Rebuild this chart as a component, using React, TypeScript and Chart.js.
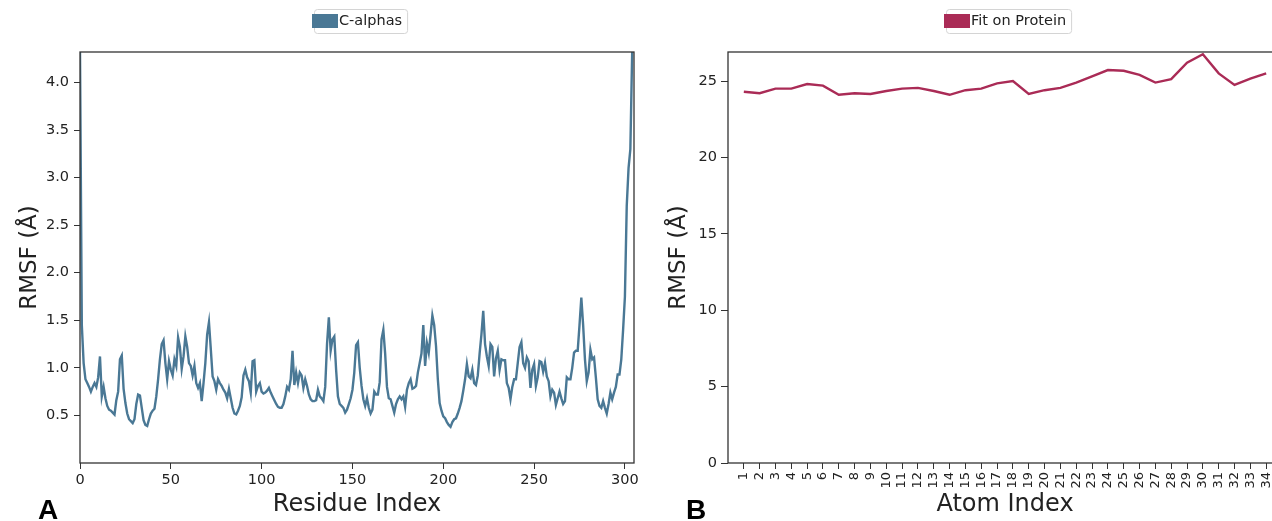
import React, { useEffect, useRef } from "react";
import { Chart, registerables } from "chart.js";

Chart.register(...registerables);

// ---------- Panel A: C-alpha RMSF per residue ----------
const residueRmsf = [
  4.32, 1.45, 1.05, 0.88, 0.84, 0.80, 0.75, 0.80, 0.84, 0.80,
  0.90, 1.12, 0.70, 0.80, 0.68, 0.60, 0.56, 0.55, 0.53, 0.51,
  0.66, 0.75, 1.09, 1.13, 0.78, 0.63, 0.52, 0.46, 0.44, 0.42,
  0.46, 0.62, 0.72, 0.71, 0.58, 0.45, 0.40, 0.39, 0.46, 0.52,
  0.55, 0.57, 0.70, 0.88, 1.09, 1.25, 1.29, 1.05, 0.88, 1.07,
  0.98, 0.92, 1.09, 1.02, 1.32, 1.22, 0.99, 1.12, 1.33, 1.22,
  1.05, 1.02, 0.92, 1.02, 0.84, 0.79, 0.84, 0.65, 0.84, 1.05,
  1.35, 1.48, 1.20, 0.91, 0.86, 0.77, 0.88, 0.84, 0.81, 0.77,
  0.74, 0.68, 0.78, 0.68, 0.58, 0.52, 0.51, 0.55, 0.60, 0.69,
  0.92, 0.98, 0.90, 0.86, 0.74, 1.07, 1.08, 0.75, 0.81, 0.84,
  0.75, 0.73, 0.74, 0.76, 0.79, 0.74, 0.70, 0.66, 0.62, 0.59,
  0.58, 0.58, 0.62, 0.70, 0.80, 0.77, 0.88, 1.18, 0.82, 0.95,
  0.84, 0.95, 0.92, 0.79, 0.88, 0.81, 0.72, 0.67, 0.65, 0.65,
  0.66, 0.77, 0.70, 0.68, 0.65, 0.80, 1.25, 1.53, 1.18, 1.30,
  1.33, 0.98, 0.70, 0.62, 0.60, 0.58, 0.53, 0.56, 0.62, 0.68,
  0.77, 0.95, 1.24, 1.27, 1.00, 0.81, 0.67, 0.60, 0.68, 0.58,
  0.52, 0.56, 0.75, 0.72, 0.72, 0.85, 1.30, 1.40, 1.15, 0.80,
  0.68, 0.67, 0.60, 0.53, 0.62, 0.67, 0.70, 0.67, 0.70, 0.59,
  0.77, 0.84, 0.88, 0.78, 0.79, 0.81, 0.95, 1.05, 1.15, 1.45,
  1.02, 1.26, 1.16, 1.35, 1.55, 1.45, 1.23, 0.88, 0.63, 0.55,
  0.49, 0.47, 0.43, 0.40, 0.38, 0.43, 0.46, 0.47, 0.52, 0.58,
  0.65, 0.76, 0.88, 1.04, 0.91, 0.89, 0.98, 0.84, 0.82, 0.92,
  1.15, 1.35, 1.60, 1.25, 1.12, 1.02, 1.25, 1.22, 0.91, 1.10,
  1.18, 0.98, 1.09, 1.08, 1.08, 0.84, 0.79, 0.67, 0.80, 0.88,
  0.88, 1.05, 1.22, 1.27, 1.05, 1.00, 1.11, 1.07, 0.79, 0.98,
  1.04, 0.81, 0.90, 1.07, 1.06, 0.96, 1.05, 0.91, 0.86, 0.70,
  0.77, 0.74, 0.61, 0.68, 0.75, 0.68, 0.62, 0.65, 0.90, 0.88,
  0.88, 1.00, 1.16, 1.18, 1.18, 1.45, 1.74, 1.45, 1.09, 0.86,
  0.95, 1.19, 1.09, 1.11, 0.90, 0.67, 0.60, 0.58, 0.65, 0.58,
  0.52, 0.62, 0.74, 0.67, 0.74, 0.80, 0.93, 0.93, 1.09, 1.40,
  1.75, 2.70, 3.10, 3.30, 4.32,
];
const residueIndex = residueRmsf.map((_, i) => i);
const residueTicks = [0, 50, 100, 150, 200, 250, 300];
const rmsfTicksA = [0.5, 1.0, 1.5, 2.0, 2.5, 3.0, 3.5, 4.0];

// ---------- Panel B: ligand atom RMSF (fit on protein) ----------
const atomIndex = [
  1, 2, 3, 4, 5, 6, 7, 8, 9, 10, 11, 12, 13, 14, 15, 16, 17,
  18, 19, 20, 21, 22, 23, 24, 25, 26, 27, 28, 29, 30, 31, 32, 33, 34,
];
const atomRmsf = [
  24.3, 24.2, 24.5, 24.5, 24.8, 24.7, 24.1, 24.2, 24.15, 24.35,
  24.5, 24.55, 24.35, 24.1, 24.4, 24.5, 24.85, 25.0, 24.15, 24.4,
  24.55, 24.9, 25.3, 25.72, 25.67, 25.4, 24.9, 25.12, 26.2, 26.75,
  25.5, 24.75, 25.15, 25.5,
];
const rmsfTicksB = [0, 5, 10, 15, 20, 25];

const FONT = "'DejaVu Sans', sans-serif";
const TEXT = "#222222";
const SPINE = "#333333";
const BLUE = "#4a7895";
const CRIMSON = "#aa2b56";

const framePlugin = {
  id: "frame",
  afterDatasetsDraw(chart: any) {
    const { ctx, chartArea: a } = chart;
    ctx.save();
    ctx.strokeStyle = SPINE;
    ctx.lineWidth = 1.3;
    ctx.strokeRect(a.left, a.top, a.right - a.left, a.bottom - a.top);
    ctx.restore();
  },
};

const legendPlugin = {
  id: "boxLegend",
  afterDraw(chart: any) {
    const ds = chart.data.datasets[0];
    const { ctx, chartArea: a } = chart;
    ctx.save();
    ctx.font = `14.5px ${FONT}`;
    const w = ctx.measureText(ds.label).width;
    const patchW = 26;
    const total = patchW + 1 + w;
    const cx = (a.left + a.right) / 2;
    const x0 = Math.round(cx - total / 2);
    ctx.strokeStyle = "#d4d4d4";
    ctx.lineWidth = 1;
    ctx.beginPath();
    if (ctx.roundRect) ctx.roundRect(x0 + 2.5, 9.5, total + 3, 24, 3);
    else ctx.rect(x0 + 2.5, 9.5, total + 3, 24);
    ctx.stroke();
    ctx.fillStyle = ds.borderColor;
    ctx.fillRect(x0, 14, patchW, 14);
    ctx.fillStyle = TEXT;
    ctx.textBaseline = "middle";
    ctx.textAlign = "left";
    ctx.fillText(ds.label, x0 + patchW + 1, 21.5);
    ctx.restore();
  },
};

const letterPlugin = {
  id: "panelLetter",
  afterDraw(chart: any, _args: any, opts: any) {
    const { ctx } = chart;
    ctx.save();
    ctx.font = "bold 28px 'Liberation Sans', sans-serif";
    ctx.fillStyle = "#000";
    ctx.textBaseline = "alphabetic";
    ctx.textAlign = "left";
    ctx.fillText(opts.text, opts.x, 519);
    ctx.restore();
  },
};

function makeConfigA(): any {
  return {
    type: "line",
    data: {
      datasets: [
        {
          label: "C-alphas",
          data: residueIndex.map((x, i) => ({ x, y: residueRmsf[i] })),
          borderColor: BLUE,
          backgroundColor: BLUE,
          borderWidth: 2.4,
          pointRadius: 0,
          tension: 0,
        },
      ],
    },
    options: {
      responsive: false,
      animation: false,
      devicePixelRatio: 1,
      layout: { padding: { top: 52, right: 6, bottom: 0, left: 0 } },
      plugins: {
        legend: { display: false },
        tooltip: { enabled: false },
        panelLetter: { text: "A", x: 38 },
      },
      scales: {
        x: {
          type: "linear",
          min: 0,
          max: 305,
          afterBuildTicks: (s: any) => {
            s.ticks = residueTicks.map((v) => ({ value: v }));
          },
          afterFit: (s: any) => {
            s.height = 58;
            s.paddingLeft = 0;
            s.paddingRight = 0;
          },
          grid: { drawOnChartArea: false, drawTicks: true, tickLength: 6, color: SPINE },
          border: { display: false },
          ticks: {
            font: { family: FONT, size: 14.5 },
            color: TEXT,
            padding: 3,
            maxRotation: 0,
            autoSkip: false,
          },
          title: {
            display: true,
            text: "Residue Index",
            font: { family: FONT, size: 24 },
            color: TEXT,
            padding: { top: 0, bottom: 2 },
          },
        },
        y: {
          type: "linear",
          min: 0,
          max: 4.32,
          afterBuildTicks: (s: any) => {
            s.ticks = rmsfTicksA.map((v) => ({ value: v }));
          },
          afterFit: (s: any) => {
            s.width = 80;
          },
          grid: { drawOnChartArea: false, drawTicks: true, tickLength: 6, color: SPINE },
          border: { display: false },
          ticks: {
            font: { family: FONT, size: 14.5 },
            color: TEXT,
            padding: 5,
            callback: (v: any) => Number(v).toFixed(1),
          },
          title: {
            display: true,
            text: "RMSF (Å)",
            font: { family: FONT, size: 23 },
            color: TEXT,
            padding: { top: 16, bottom: 0 },
          },
        },
      },
    },
    plugins: [framePlugin, legendPlugin, letterPlugin],
  };
}

function makeConfigB(): any {
  return {
    type: "line",
    data: {
      datasets: [
        {
          label: "Fit on Protein",
          data: atomIndex.map((x, i) => ({ x, y: atomRmsf[i] })),
          borderColor: CRIMSON,
          backgroundColor: CRIMSON,
          borderWidth: 2.4,
          pointRadius: 0,
          tension: 0,
        },
      ],
    },
    options: {
      responsive: false,
      animation: false,
      devicePixelRatio: 1,
      layout: { padding: { top: 52, right: 8, bottom: 0, left: 0 } },
      plugins: {
        legend: { display: false },
        tooltip: { enabled: false },
        panelLetter: { text: "B", x: 46 },
      },
      scales: {
        x: {
          type: "linear",
          min: 0,
          max: 35,
          afterBuildTicks: (s: any) => {
            s.ticks = atomIndex.map((v) => ({ value: v }));
          },
          afterFit: (s: any) => {
            s.height = 58;
            s.paddingLeft = 0;
            s.paddingRight = 0;
          },
          grid: { drawOnChartArea: false, drawTicks: true, tickLength: 6, color: SPINE },
          border: { display: false },
          ticks: {
            font: { family: FONT, size: 13 },
            color: TEXT,
            padding: 3,
            minRotation: 90,
            maxRotation: 90,
            autoSkip: false,
            callback: (v: any) => String(v),
          },
          title: {
            display: true,
            text: "Atom Index",
            font: { family: FONT, size: 24 },
            color: TEXT,
            padding: { top: 0, bottom: 2 },
          },
        },
        y: {
          type: "linear",
          min: 0,
          max: 26.9,
          afterBuildTicks: (s: any) => {
            s.ticks = rmsfTicksB.map((v) => ({ value: v }));
          },
          afterFit: (s: any) => {
            s.width = 88;
          },
          grid: { drawOnChartArea: false, drawTicks: true, tickLength: 7, color: SPINE },
          border: { display: false },
          ticks: {
            font: { family: FONT, size: 14.5 },
            color: TEXT,
            padding: 4,
            callback: (v: any) => String(v),
          },
          title: {
            display: true,
            text: "RMSF (Å)",
            font: { family: FONT, size: 23 },
            color: TEXT,
            padding: { top: 25, bottom: 0 },
          },
        },
      },
    },
    plugins: [framePlugin, legendPlugin, letterPlugin],
  };
}

function ChartPanel(props: { left: number; width: number; height: number; make: () => any }) {
  const ref = useRef<HTMLCanvasElement | null>(null);
  useEffect(() => {
    if (!ref.current) return;
    const chart = new Chart(ref.current, props.make());
    return () => chart.destroy();
  }, []);
  return (
    <canvas
      ref={ref}
      width={props.width}
      height={props.height}
      style={{
        position: "absolute",
        left: props.left,
        top: 0,
        width: props.width,
        height: props.height,
      }}
    />
  );
}

export default function App() {
  return (
    <div
      style={{
        position: "fixed",
        left: 0,
        top: 0,
        width: 1272,
        height: 521,
        overflow: "hidden",
        background: "#ffffff",
      }}
    >
      <ChartPanel left={0} width={640} height={521} make={makeConfigA} />
      <ChartPanel left={640} width={650} height={521} make={makeConfigB} />
    </div>
  );
}
